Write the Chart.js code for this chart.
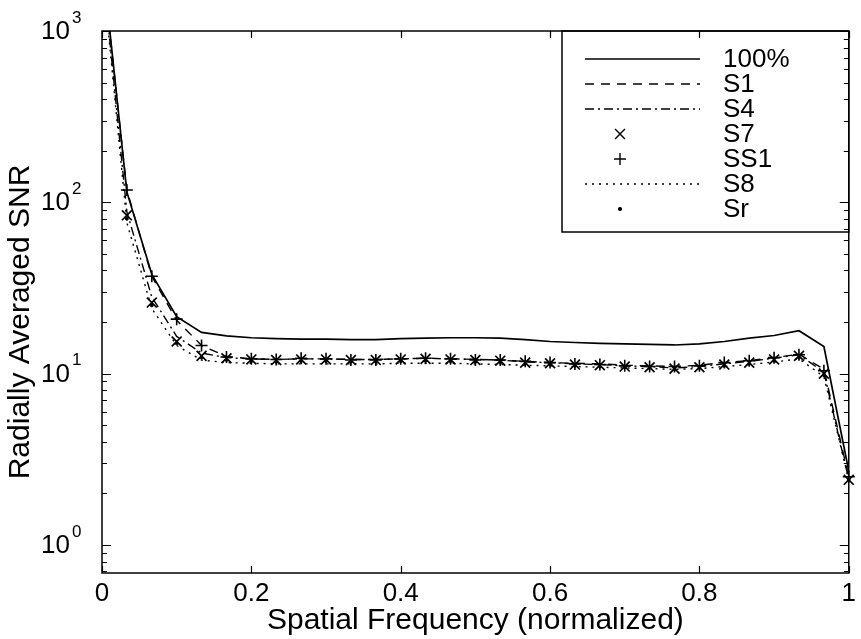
<!DOCTYPE html>
<html>
<head>
<meta charset="utf-8">
<script src="https://cdn.jsdelivr.net/npm/chart.js@4/dist/chart.umd.min.js"></script>
<style>
    html, body { margin: 0; padding: 0; background: #fff; }
    #snrChart { display: block; }
</style>
</head>
<body>
<canvas id="snrChart" width="861" height="639"></canvas>
<script>
// spatial frequency samples (normalized)
var freq = [0, 0.0333, 0.0667, 0.1, 0.1333, 0.1667, 0.2, 0.2333, 0.2667, 0.3,
    0.3333, 0.3667, 0.4, 0.4333, 0.4667, 0.5, 0.5333, 0.5667, 0.6, 0.6333,
    0.6667, 0.7, 0.7333, 0.7667, 0.8, 0.8333, 0.8667, 0.9, 0.9333, 0.9667, 1];

var snr100 = [2700, 115, 38, 21.5, 17.4, 16.6, 16.2, 16.0, 15.9, 15.9,
    15.8, 15.8, 16.0, 16.1, 16.2, 16.2, 16.1, 15.8, 15.4, 15.2,
    15.0, 14.9, 14.8, 14.7, 14.9, 15.4, 16.1, 16.7, 17.8, 14.4, 2.7];
var snrS1 = [2600, 118, 37, 20.5, 14.6, 12.6, 12.2, 12.1, 12.2, 12.2,
    12.1, 12.1, 12.2, 12.3, 12.2, 12.1, 12.0, 11.8, 11.6, 11.5,
    11.4, 11.2, 11.1, 11.0, 11.2, 11.6, 11.9, 12.4, 13.0, 10.6, 2.5];
var snrS4 = [2500, 88, 28, 16.5, 13.2, 12.4, 12.2, 12.1, 12.2, 12.2,
    12.1, 12.1, 12.2, 12.3, 12.2, 12.1, 12.0, 11.7, 11.6, 11.4,
    11.3, 11.1, 11.0, 10.8, 11.0, 11.4, 11.8, 12.3, 12.9, 10.2, 2.4];
var snrS7 = [2500, 84, 26, 15.4, 12.7, 12.3, 12.1, 12.0, 12.1, 12.1,
    12.0, 12.0, 12.1, 12.2, 12.1, 12.0, 11.9, 11.6, 11.5, 11.3,
    11.2, 11.0, 10.9, 10.7, 10.9, 11.3, 11.6, 12.1, 12.7, 10.0, 2.4];
var snrSS1 = [2600, 118, 37, 20.8, 14.6, 12.5, 12.2, 12.1, 12.3, 12.2,
    12.0, 12.0, 12.2, 12.3, 12.2, 12.0, 12.0, 11.8, 11.6, 11.4,
    11.3, 11.1, 11.0, 11.0, 11.1, 11.6, 11.9, 12.4, 12.9, 10.4, 2.5];
var snrS8 = [2400, 76, 24, 14.6, 12.0, 11.6, 11.5, 11.4, 11.4, 11.4,
    11.4, 11.4, 11.5, 11.5, 11.5, 11.4, 11.3, 11.2, 11.1, 11.0,
    10.9, 10.8, 10.7, 10.6, 10.7, 11.0, 11.3, 11.7, 12.2, 9.6, 2.4];
var snrSr = [2450, 80, 25, 15.0, 12.4, 12.0, 11.8, 11.7, 11.8, 11.8,
    11.7, 11.7, 11.8, 11.9, 11.8, 11.7, 11.6, 11.4, 11.3, 11.1,
    11.0, 10.9, 10.8, 10.6, 10.8, 11.1, 11.4, 11.9, 12.4, 9.8, 2.4];

var seriesNames = ['100%', 'S1', 'S4', 'S7', 'SS1', 'S8', 'Sr'];
var xTicks = [0, 0.2, 0.4, 0.6, 0.8, 1];
var yDecades = [0, 1, 2, 3];
var yTitle = 'Radially Averaged SNR';

var FONT = "'Liberation Sans', Arial, Helvetica, sans-serif";

function pairs(values) {
    return freq.map(function (f, i) { return { x: f, y: values[i] }; });
}

function lineSet(label, values, width, dash) {
    return {
        label: label, data: pairs(values), borderColor: '#000', backgroundColor: '#000',
        borderWidth: width, borderDash: dash, pointRadius: 0, tension: 0, clip: 0
    };
}

function markSet(label, values, style, radius, width) {
    return {
        label: label, data: pairs(values), showLine: false, borderColor: '#000',
        backgroundColor: '#000', pointStyle: style, pointRadius: radius,
        pointBorderWidth: width, clip: 8
    };
}

// frame, inward ticks, 10^n labels and the y label, as matlab draws them
var frameAxes = {
    id: 'frameAxes',
    afterDraw: function (chart) {
        var ctx = chart.ctx, a = chart.chartArea;
        var xs = chart.scales.x, ys = chart.scales.y;
        ctx.save();
        ctx.strokeStyle = '#000';
        ctx.lineWidth = 1.5;
        ctx.strokeRect(a.left, a.top, a.right - a.left, a.bottom - a.top);

        ctx.lineWidth = 1.2;
        ctx.beginPath();
        xTicks.forEach(function (t) {
            var px = Math.round(xs.getPixelForValue(t)) + 0.5;
            ctx.moveTo(px, a.bottom); ctx.lineTo(px, a.bottom - 7);
            ctx.moveTo(px, a.top); ctx.lineTo(px, a.top + 7);
        });
        for (var d = -1; d <= 3; d++) {
            for (var m = 1; m <= 9; m++) {
                var v = m * Math.pow(10, d);
                if (v < ys.min || v > ys.max) continue;
                var py = Math.round(ys.getPixelForValue(v)) + 0.5;
                var len = m === 1 ? 9 : 5;
                ctx.moveTo(a.left, py); ctx.lineTo(a.left + len, py);
                ctx.moveTo(a.right, py); ctx.lineTo(a.right - len, py);
            }
        }
        ctx.stroke();

        ctx.fillStyle = '#000';
        yDecades.forEach(function (e) {
            var py = ys.getPixelForValue(Math.pow(10, e));
            ctx.font = '26px ' + FONT;
            ctx.textAlign = 'right';
            ctx.textBaseline = 'middle';
            ctx.fillText('10', 70, py + 1);
            ctx.font = '17px ' + FONT;
            ctx.textAlign = 'left';
            ctx.fillText(String(e), 72, py - 13);
        });

        ctx.translate(21, 322);
        ctx.rotate(-Math.PI / 2);
        ctx.font = '30px ' + FONT;
        ctx.textAlign = 'center';
        ctx.textBaseline = 'middle';
        ctx.fillText(yTitle, 0, 0);
        ctx.restore();
    }
};

// boxed legend in the top right corner
var boxLegend = {
    id: 'boxLegend',
    afterDatasetsDraw: function (chart) {
        var ctx = chart.ctx, a = chart.chartArea;
        var left = 562, top = a.top, right = a.right, bottom = 232;
        ctx.save();
        ctx.fillStyle = '#fff';
        ctx.fillRect(left, top, right - left, bottom - top);
        ctx.strokeStyle = '#000';
        ctx.lineWidth = 1.5;
        ctx.strokeRect(left, top, right - left, bottom - top);

        chart.data.datasets.forEach(function (ds, i) {
            var y = top + 28 + i * 25;
            ctx.strokeStyle = '#000';
            ctx.fillStyle = '#000';
            if (ds.showLine === false) {
                Chart.helpers.drawPoint(ctx, {
                    pointStyle: ds.pointStyle, radius: ds.pointRadius,
                    borderWidth: ds.pointBorderWidth, rotation: 0
                }, 620, y);
            } else {
                ctx.lineWidth = ds.borderWidth;
                ctx.setLineDash(ds.borderDash || []);
                ctx.beginPath();
                ctx.moveTo(585, y); ctx.lineTo(700, y);
                ctx.stroke();
                ctx.setLineDash([]);
            }
            ctx.font = '26px ' + FONT;
            ctx.textAlign = 'left';
            ctx.textBaseline = 'middle';
            ctx.fillText(ds.label, 723, y + 1);
        });
        ctx.restore();
    }
};

var ctx = document.getElementById('snrChart').getContext('2d');

var chart = new Chart(ctx, {
    type: 'line',
    data: {
        datasets: [
            lineSet(seriesNames[0], snr100, 1.7, []),
            lineSet(seriesNames[1], snrS1, 1.4, [9, 7]),
            lineSet(seriesNames[2], snrS4, 1.4, [9, 4, 2, 4]),
            markSet(seriesNames[3], snrS7, 'crossRot', 7, 1.7),
            markSet(seriesNames[4], snrSS1, 'cross', 6, 1.6),
            lineSet(seriesNames[5], snrS8, 1.4, [2, 5]),
            markSet(seriesNames[6], snrSr, 'circle', 1.4, 1)
        ]
    },
    options: {
        responsive: false,
        animation: false,
        events: [],
        layout: { padding: { top: 31, right: 4, left: 0, bottom: 0 } },
        plugins: {
            legend: { display: false },
            tooltip: { enabled: false }
        },
        scales: {
            x: {
                type: 'linear',
                min: 0,
                max: 1,
                grid: { display: false, drawTicks: false },
                border: { display: false },
                ticks: {
                    stepSize: 0.2,
                    padding: 5,
                    color: '#000',
                    font: { family: FONT, size: 26 },
                    callback: function (v) { return String(Number(v.toFixed(1))); }
                },
                title: {
                    display: true,
                    text: 'Spatial Frequency (normalized)',
                    color: '#000',
                    font: { family: FONT, size: 30 },
                    padding: { top: 0, bottom: 0 }
                },
                afterFit: function (scale) { scale.height = 66; }
            },
            y: {
                type: 'logarithmic',
                min: 0.686,
                max: 1000,
                grid: { display: false, drawTicks: false },
                border: { display: false },
                ticks: { display: false },
                title: { display: false },
                afterFit: function (scale) { scale.width = 102; }
            }
        }
    },
    plugins: [boxLegend, frameAxes]
});
</script>
</body>
</html>
